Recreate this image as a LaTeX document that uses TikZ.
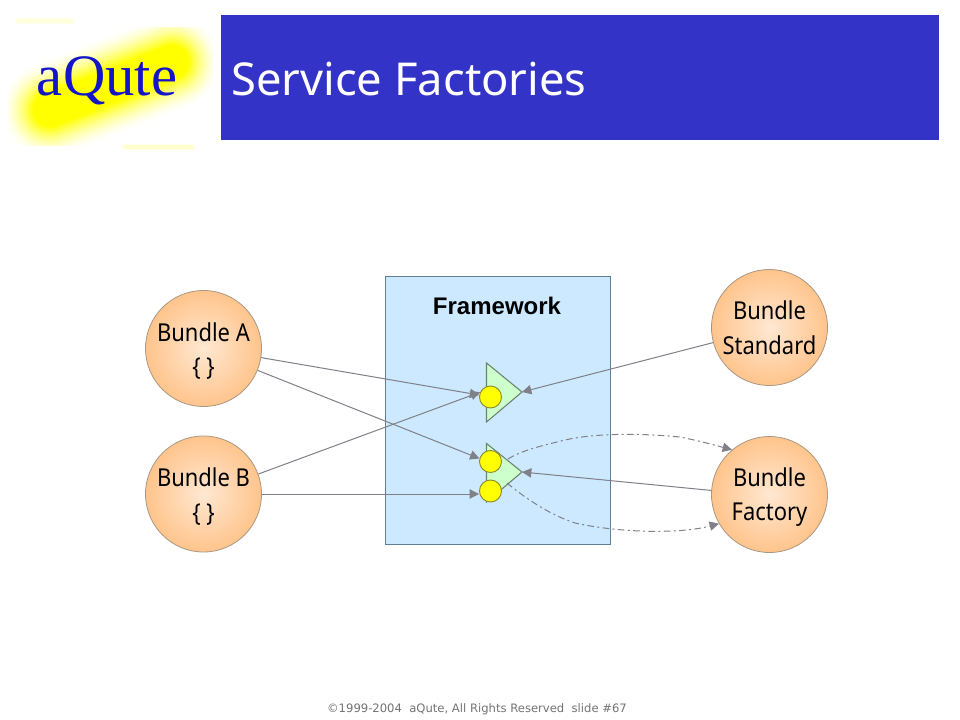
\documentclass[tikz,border=0pt]{standalone}
\usepackage{fontspec}
\setmainfont{Noto Sans}
\newfontfamily\logofont{Liberation Serif}
\newfontfamily\footfont{DejaVu Sans}
\newfontfamily\bundlefont[FakeStretch=0.89]{Noto Sans}
\newfontfamily\headfont{Liberation Sans}
\usetikzlibrary{arrows.meta}
\definecolor{titleblue}{HTML}{3333C8}
\definecolor{fwblue}{HTML}{CCE9FF}
\definecolor{fwline}{HTML}{5F7F96}
\definecolor{lineg}{HTML}{808088}
\definecolor{peach}{HTML}{FFC48C}
\definecolor{peachin}{HTML}{FFE8D2}
\definecolor{peachline}{HTML}{A89884}
\definecolor{trifill}{HTML}{CCFFCC}
\definecolor{triline}{HTML}{6E8270}
\definecolor{ylw}{HTML}{FFFF00}
\definecolor{ylwline}{HTML}{8C8C28}
\definecolor{logoblue}{HTML}{1414C8}
\tikzset{
  bundle/.style={circle,minimum size=116*0.75pt,inner sep=0pt,draw=peachline,line width=0.6pt,
    inner color=peachin,outer color=peach,align=center,font=\bundlefont\fontsize{18.5}{26}\selectfont},
  conn/.style={draw=lineg,line width=0.75pt,-{Triangle[length=7pt,width=7pt]}},
  connd/.style={conn,dash pattern=on 5pt off 2.5pt on 1.5pt off 2.5pt},
  tri/.style={fill=trifill,draw=triline,line width=0.8pt,line join=miter},
  port/.style={circle,minimum size=22*0.75pt,inner sep=0pt,fill=ylw,draw=ylwline,line width=0.7pt}
}
\begin{document}
\begin{tikzpicture}[x=0.75pt,y=-0.75pt]
\useasboundingbox (0,0) rectangle (960,720);
\fill[white] (0,0) rectangle (960,720);
% logo glow
\begin{scope}
\clip (8,28) rectangle (212,146);
\foreach \w in {100,98,...,34}{
  \pgfmathtruncatemacro{\t}{100*(1-(\w-34)/66)^1.7}
  \draw[line width=\w*0.75pt,line cap=round,color=ylw!\t!white] (50,110) -- (172,62);
}
\end{scope}
\draw[line width=5pt,line cap=round,color=ylw!6!white] (18,21) -- (72,21);
\draw[line width=2.5pt,line cap=round,color=ylw!14!white] (18,21) -- (72,21);
\draw[line width=5pt,line cap=round,color=ylw!8!white] (125,147) -- (192,147);
\draw[line width=2.5pt,line cap=round,color=ylw!20!white] (125,147) -- (192,147);
\node[font=\logofont\fontsize{44}{44}\selectfont,text=logoblue,inner sep=0pt] (logo) at (107,81) {aQute};
% title band
\fill[titleblue] (221,15) rectangle (939,140.5);
\node[anchor=west,text=white,inner sep=0pt,font=\fontsize{34}{40}\selectfont] (title) at (231,79) {Service Factories};
% framework
\node[draw=fwline,fill=fwblue,line width=0.6pt,minimum width=224.5*0.75pt,minimum height=267.5*0.75pt,inner sep=0pt] (fw) at (497.75,410.25) {};
\node[font=\headfont\bfseries\fontsize{18}{22}\selectfont,inner sep=0pt] (fwl) at (497,306) {Framework};
% services
\coordinate (t1) at (522,392);
\coordinate (t2) at (522,472);
\coordinate (t2u) at (508,459);
\coordinate (t2l) at (507,483);
\draw[tri] (486.5,363) -- (t1) -- (486.5,422) -- cycle;
\draw[tri] (486.5,443.5) -- (t2) -- (486.5,502) -- cycle;
\node[port] (p1) at (490.5,397) {};
\node[port] (p2) at (490.5,461.5) {};
\node[port] (p3) at (490.5,491) {};
% bundles
\node[bundle] (a) at (203.5,348.5) {\rule{0pt}{17.7pt}Bundle A\\\{ \}};
\node[bundle] (b) at (203.5,494) {\rule{0pt}{17.7pt}Bundle B\\\{ \}};
\node[bundle] (s) at (769.5,327.5) {\rule{0pt}{14.7pt}Bundle\\Standard};
\node[bundle] (f) at (769.5,494.5) {\rule{0pt}{17.7pt}Bundle\\Factory};
% connectors
\draw[conn] (a.-9) -- (p1.170);
\draw[conn] (a.-22) -- (p2.165);
\draw[conn] (b.20) -- (p1.155);
\draw[conn] (b.0) -- (p3.west |- b.0);
\draw[conn] (s.195) -- (t1);
\draw[conn] (f.176) -- (t2);
\draw[connd] (t2u) .. controls (522,450) and (545,445) .. (565,440) .. controls (600,432) and (650,434) .. (680,437) .. controls (700,441) and (718,446) .. (f.130);
\draw[connd] (t2l) .. controls (525,498) and (550,515) .. (575,523) .. controls (620,533) and (680,534) .. (f.210);
% footer
\node[font=\footfont\fontsize{8.7}{10}\selectfont,text=black!55,inner sep=0pt] (foot) at (477,709) {©1999-2004\ \ aQute,\ All Rights\ Reserved\ \ slide\ \#67};
\end{tikzpicture}
\end{document}
